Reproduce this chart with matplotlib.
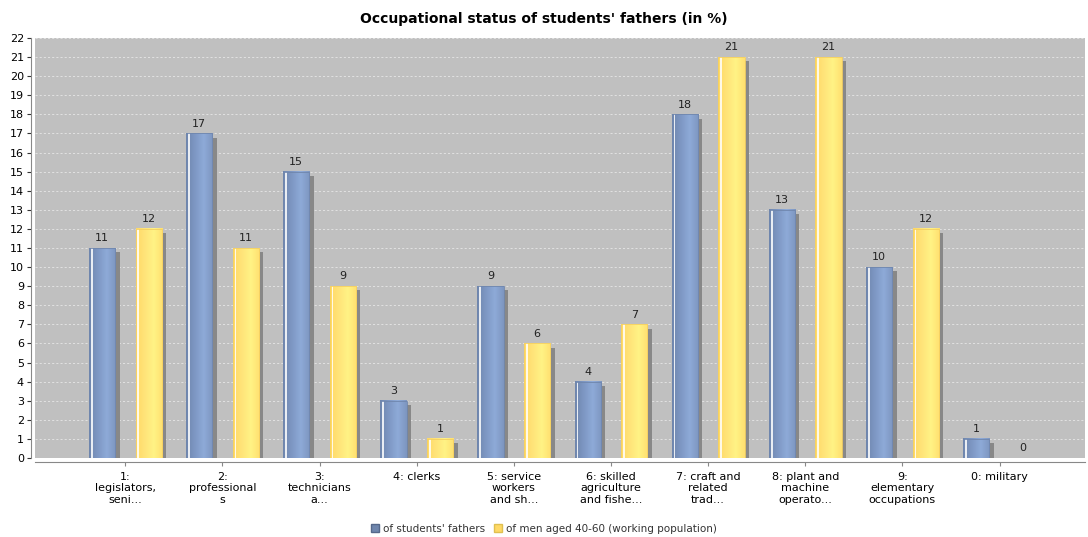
import numpy as np
import matplotlib.pyplot as plt
from matplotlib.patches import Rectangle, Patch
from matplotlib.colors import LinearSegmentedColormap

categories = ['1:\nlegislators,\nseni...', '2:\nprofessional\ns', '3:\ntechnicians\na...',
              '4: clerks', '5: service\nworkers\nand sh...', '6: skilled\nagriculture\nand fishe...',
              '7: craft and\nrelated\ntrad...', '8: plant and\nmachine\noperato...',
              '9:\nelementary\noccupations', '0: military']
fathers = [11, 17, 15, 3, 9, 4, 18, 13, 10, 1]
men_40_60 = [12, 11, 9, 1, 6, 7, 21, 21, 12, 0]
series_names = ["of students' fathers", "of men aged 40-60 (working population)"]

fig = plt.figure(figsize=(10.88, 5.37), dpi=100)
ax = fig.add_axes([35 / 1088, 79 / 537, 1050 / 1088, 420 / 537])
ax.set_facecolor('#c0c0c0')

x = np.arange(len(categories))
w = 0.27
off = 0.24

blue_cmap = LinearSegmentedColormap.from_list('b', ['#6f86ad', '#7e98c4', '#8eaad8', '#7d96c0'])
yellow_cmap = LinearSegmentedColormap.from_list('y', ['#ffd966', '#ffe47a', '#fff385', '#ffe070'])
grad = np.linspace(0, 1, 64).reshape(1, -1)

sx = 0.045  # shadow offset in category units
sy = 0.22   # shadow offset in value units


def draw_bar(xc, h, cmap, edge):
    if h <= 0:
        return
    left = xc - w / 2
    ax.add_patch(Rectangle((left + sx, 0), w, h - sy, color='#888888', zorder=2, lw=0))
    ax.imshow(grad, cmap=cmap, aspect='auto', extent=(left, left + w, 0, h), zorder=3,
              interpolation='bilinear')
    ax.add_patch(Rectangle((left + 0.02, 0), 0.018, h, color='white', alpha=0.85, zorder=4, lw=0))
    ax.add_patch(Rectangle((left, 0), w, h, fill=False, edgecolor=edge, lw=0.6, zorder=5))


for i in x:
    draw_bar(i - off, fathers[i], blue_cmap, '#6f86ad')
    draw_bar(i + off, men_40_60[i], yellow_cmap, '#f5d060')
    ax.text(i - off, fathers[i] + 0.25, str(fathers[i]), ha='center', va='bottom', fontsize=8, color='#222222')
    ax.text(i + off, men_40_60[i] + 0.25, str(men_40_60[i]), ha='center', va='bottom', fontsize=8, color='#222222')

ax.set_xlim(-0.93, 9.88)
ax.set_ylim(0, 22)
ax.set_yticks(range(0, 23))
ax.tick_params(axis='y', labelsize=8, length=3, colors='#333333', labelcolor='black', pad=2)
ax.set_xticks(x)
ax.tick_params(axis='x', length=3, pad=4, colors='#888888', labelcolor='black', labelsize=8)
ax.set_xticklabels(categories, fontsize=8, linespacing=1.25)
ax.yaxis.grid(True, color='white', linestyle='--', linewidth=0.5, dashes=(3, 3), alpha=0.75)
ax.set_axisbelow(True)
for s in ['top', 'right']:
    ax.spines[s].set_visible(False)
ax.spines['left'].set_color('#888888')
ax.spines['bottom'].set_color('#888888')
ax.spines['left'].set_position(('outward', 3))
ax.spines['bottom'].set_position(('outward', 3))

fig.suptitle("Occupational status of students' fathers (in %)", fontsize=10, fontweight='bold', y=0.978)

handles = [Patch(facecolor='#6f86ad', edgecolor='#55688a'), Patch(facecolor='#ffd966', edgecolor='#e0c050')]
fig.legend(handles, series_names, loc='center', bbox_to_anchor=(0.5, 0.015), ncol=2, frameon=False,
           fontsize=7.5, handlelength=0.8, handleheight=0.8, handletextpad=0.4, columnspacing=0.8,
           labelcolor='#333333')

fig.savefig('out.png', dpi=100)
